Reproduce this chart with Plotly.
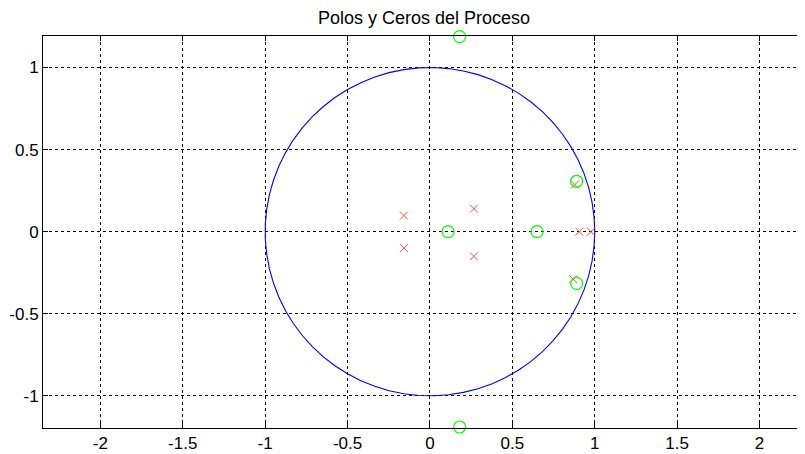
import numpy as np
import plotly.graph_objects as go

# Zeros (green circles)
zeros_re = [0.18, 0.18, 0.11, 0.65, 0.89, 0.89]
zeros_im = [1.188, -1.19, 0.0, 0.0, 0.307, -0.315]

# Poles (red crosses)
poles_re = [-0.158, -0.158, 0.267, 0.267, 0.906, 0.977, 0.88, 0.87]
poles_im = [0.098, -0.10, 0.14, -0.15, 0.0, 0.0, 0.287, -0.29]

x_ticks = [-2, -1.5, -1, -0.5, 0, 0.5, 1, 1.5, 2]
y_ticks = [-1, -0.5, 0, 0.5, 1]

# unit circle reference
theta = np.linspace(0, 2 * np.pi, 70)
circ_x = np.cos(theta)
circ_y = np.sin(theta)

fig = go.Figure()
fig.add_trace(go.Scatter(x=circ_x, y=circ_y, mode="lines",
                         line=dict(color="#0000ff", width=1.1), showlegend=False,
                         hoverinfo="skip"))
fig.add_trace(go.Scatter(x=poles_re, y=poles_im, mode="markers",
                         marker=dict(symbol="x-thin-open", size=8,
                                     line=dict(color="#ff0000", width=1)),
                         showlegend=False, cliponaxis=False))
fig.add_trace(go.Scatter(x=zeros_re, y=zeros_im, mode="markers",
                         marker=dict(symbol="circle-open", size=12, color="#00ff00",
                                     line=dict(color="#00ff00", width=1.2)),
                         showlegend=False, cliponaxis=False))

axis_common = dict(
    showgrid=True, gridcolor="black", gridwidth=1, griddash="3px,3px",
    zeroline=False, showline=True, linecolor="black", linewidth=1, mirror="ticks",
    ticks="inside", ticklen=5, tickcolor="black",
    tickfont=dict(family="Liberation Sans, Arial", size=17, color="black"),
)

# page body has an 8px margin, so the figure is offset by 8px
fig.update_layout(
    width=797, height=446,
    margin=dict(l=35, r=0, t=28, b=26),
    paper_bgcolor="white", plot_bgcolor="white",
    title=dict(text="Polos y Ceros del Proceso", x=0.5, xref="paper", xanchor="center",
               y=0.979, yanchor="middle",
               font=dict(family="Liberation Sans, Arial", size=18, color="black")),
    xaxis=dict(range=[-2.348, 2.276], tickvals=x_ticks,
               ticktext=[str(v) for v in x_ticks], **axis_common),
    yaxis=dict(range=[-1.196, 1.192], tickvals=y_ticks,
               ticktext=[str(v) for v in y_ticks], **axis_common),
)

fig.write_html("out.html")
